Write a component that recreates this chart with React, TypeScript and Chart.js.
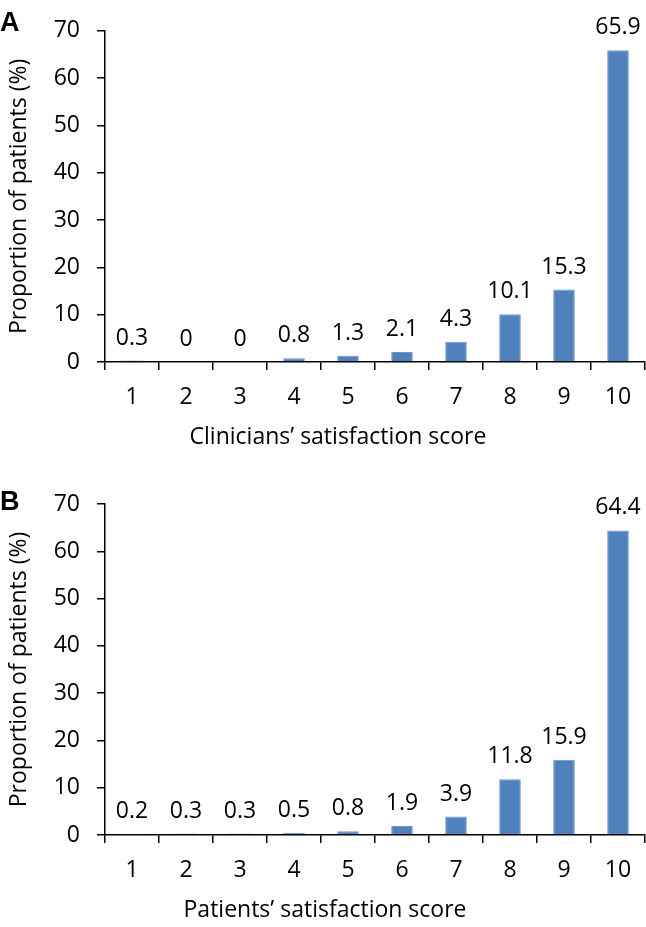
import { useEffect, useRef } from "react"
import { Chart, registerables } from "chart.js"

Chart.register(...registerables)

const scores = ["1", "2", "3", "4", "5", "6", "7", "8", "9", "10"]
const cliniciansValues = [0.3, 0, 0, 0.8, 1.3, 2.1, 4.3, 10.1, 15.3, 65.9]
const patientsValues = [0.2, 0.3, 0.3, 0.5, 0.8, 1.9, 3.9, 11.8, 15.9, 64.4]
const yTicks = [0, 10, 20, 30, 40, 50, 60, 70]

const FONT = "'Open Sans', sans-serif"
const FONT_SIZE = 23
const BAR_COLOR = "#4F81BD"

type PanelProps = {
    letter: string,
    xTitle: string,
    values: number[],
    height: number,
    padTop: number,
    xHeight: number,
    titleCenter: number,
    letterBaseline: number
}

function Panel({ letter, xTitle, values, height, padTop, xHeight, titleCenter, letterBaseline }: PanelProps) {
    const canvasRef = useRef<HTMLCanvasElement>(null)

    useEffect(() => {
        const ctx = canvasRef.current
        if (!ctx) return

        // value labels, x-axis title and panel letter
        const extras = {
            id: "extras",
            afterDatasetsDraw(chart: any) {
                const c = chart.ctx
                const meta = chart.getDatasetMeta(0)
                c.save()
                c.fillStyle = "#000"
                c.font = `${FONT_SIZE}px ${FONT}`
                c.textAlign = "center"
                c.textBaseline = "alphabetic"
                meta.data.forEach((bar: any, i: number) => {
                    c.fillText(String(values[i]), bar.x, bar.y - 16)
                })
                c.fillText(xTitle, titleCenter, chart.chartArea.bottom + 82)
                c.font = `bold 27px 'Liberation Sans', Arial, sans-serif`
                c.textAlign = "left"
                c.fillText(letter, 0, letterBaseline)
                c.restore()
            }
        }

        const chart = new Chart(ctx, {
            type: "bar",
            data: {
                labels: scores,
                datasets: [{
                    data: values,
                    backgroundColor: BAR_COLOR,
                    borderColor: "#6B97CC",
                    borderWidth: 1,
                    barPercentage: 0.4,
                    categoryPercentage: 1
                }]
            },
            options: {
                animation: false,
                responsive: true,
                maintainAspectRatio: false,
                layout: { padding: { top: padTop, right: 1, left: 0, bottom: 0 } },
                plugins: {
                    legend: { display: false },
                    tooltip: { enabled: false }
                },
                scales: {
                    x: {
                        grid: {
                            offset: true,
                            drawOnChartArea: false,
                            drawTicks: true,
                            tickLength: 8,
                            color: "#000",
                            lineWidth: 1.5
                        },
                        border: { display: true, color: "#000", width: 1.5 },
                        ticks: {
                            color: "#000",
                            padding: 14,
                            font: { family: FONT, size: FONT_SIZE },
                            maxRotation: 0
                        },
                        afterFit(scale: any) {
                            scale.height = xHeight
                        }
                    },
                    y: {
                        min: 0,
                        max: 70,
                        afterBuildTicks(scale: any) {
                            scale.ticks = yTicks.map(v => ({ value: v }))
                        },
                        grid: {
                            drawOnChartArea: false,
                            drawTicks: true,
                            tickLength: 8,
                            color: "#000",
                            lineWidth: 1.5
                        },
                        border: { display: true, color: "#000", width: 1.5 },
                        ticks: {
                            color: "#000",
                            padding: 17,
                            font: { family: FONT, size: FONT_SIZE }
                        },
                        title: {
                            display: true,
                            text: "Proportion of patients (%)",
                            color: "#000",
                            font: { family: FONT, size: FONT_SIZE },
                            padding: { top: 6, bottom: 0 }
                        },
                        afterFit(scale: any) {
                            scale.width = 105
                        }
                    }
                }
            },
            plugins: [extras]
        })

        return () => {
            chart.destroy()
        }
    }, [values])

    return (
        <div style={{ position: "relative", width: 646, height }}>
            <canvas ref={canvasRef}></canvas>
        </div>
    )
}

export default function App() {
    return (
        <div style={{ position: "absolute", top: 0, left: 0, width: 646, height: 927, background: "#fff" }}>
            <Panel
                letter="A"
                xTitle="Clinicians’ satisfaction score"
                values={cliniciansValues}
                height={465}
                padTop={22}
                xHeight={103}
                titleCenter={338}
                letterBaseline={31}
            />
            <Panel
                letter="B"
                xTitle="Patients’ satisfaction score"
                values={patientsValues}
                height={462}
                padTop={39}
                xHeight={92}
                titleCenter={325}
                letterBaseline={45}
            />
        </div>
    )
}
